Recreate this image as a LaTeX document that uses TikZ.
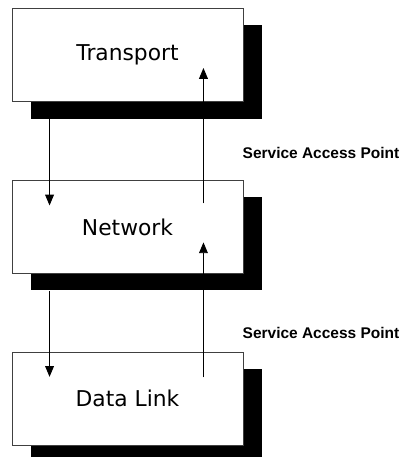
\documentclass[tikz,border=0pt]{standalone}
\usepackage{fontspec}
\newfontfamily\layerfont{DejaVu Sans}
\newfontfamily\sapfont{Liberation Sans}
\usetikzlibrary{
  positioning,
  calc,
  shadows,
  arrows.meta}
\tikzset{
  %% layer : one protocol layer, with its black shadow
  layer/.style={
    rectangle,
    draw=black!75,
    line width=0.6pt,
    fill=white,
    minimum width=5.775cm,
    minimum height=2.325cm,
    inner sep=0pt,
    font=\layerfont\fontsize{15.5}{18}\selectfont,
    drop shadow={shadow xshift=0.475cm, shadow yshift=-0.425cm,
      fill=black, opacity=1}
  },
  %% prim : a service primitive going through the access point
  prim/.style={
    line width=0.65pt,
    -{Triangle[length=0.27cm, width=0.22cm]}
  },
  %% sap : label of a service access point
  sap/.style={
    anchor=west,
    inner sep=0pt,
    font=\sapfont\bfseries\fontsize{11}{13}\selectfont
  }
}

\begin{document}
\begin{tikzpicture}
  [x=0.025cm,
  y=-0.025cm,
  node distance=1.95cm]

  \useasboundingbox (0,0) rectangle (400,457);

  %% Layers
  \node (transport) [layer] at (127.5,55) {Transport};
  \node (network) [below=of transport, layer] {Network};
  \node (datalink) [below=of network, layer] {Data Link};

  %% Transport <-> Network
  \coordinate (down1-a) at ($(transport.south west)+(38,17)$);
  \coordinate (down1-b) at ($(network.north west)+(38,25.5)$);
  \coordinate (up1-a) at ($(network.north east)+(-40,23.5)$);
  \coordinate (up1-b) at ($(transport.east)+(-40,13)$);
  \draw [prim] (down1-a) -- (down1-b);
  \draw [prim] (up1-a) -- (up1-b);
  \node (sap1) [sap] at ($(transport.south east)+(-1,51.5)$)
    {Service Access Point};

  %% Network <-> Data Link
  \coordinate (down2-a) at ($(network.south west)+(38,17)$);
  \coordinate (down2-b) at ($(datalink.north west)+(38,25)$);
  \coordinate (up2-a) at ($(datalink.north east)+(-40,25.5)$);
  \coordinate (up2-b) at ($(network.east)+(-40,15.5)$);
  \draw [prim] (down2-a) -- (down2-b);
  \draw [prim] (up2-a) -- (up2-b);
  \node (sap2) [sap] at ($(network.south east)+(-1,59.5)$)
    {Service Access Point};

\end{tikzpicture}
\end{document}
